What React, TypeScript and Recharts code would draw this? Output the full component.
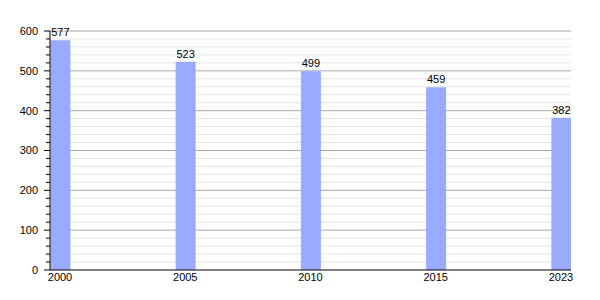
import React from 'react';
import { BarChart, Bar, XAxis, YAxis, CartesianGrid, LabelList } from 'recharts';

const years = ['2000', '2005', '2010', '2015', '2023'];
const population = [577, 523, 499, 459, 382];
const majorTicks = [0, 100, 200, 300, 400, 500, 600];
const minorTicks = [20, 40, 60, 80, 120, 140, 160, 180, 220, 240, 260, 280, 320, 340, 360, 380, 420, 440, 460, 480, 520, 540, 560, 580];
const allTicks = [...majorTicks, ...minorTicks].sort((a, b) => a - b);

const data = years.map((y, i) => ({ idx: i, year: y, value: population[i] }));

const FONT = 'Liberation Sans, Arial, sans-serif';

const YTick = (props: any) => {
  const { x, y, payload } = props;
  const v = payload.value;
  const major = v % 100 === 0;
  return (
    <g>
      <line x1={x - (major ? 6 : 4)} x2={x} y1={y} y2={y} stroke="#000" strokeWidth={1} />
      {major && (
        <text x={x - 12} y={y} dy="0.35em" textAnchor="end" fontSize={11} fontFamily={FONT} fill="#000">
          {v}
        </text>
      )}
    </g>
  );
};

export default function App() {
  return (
    <div style={{ position: 'absolute', left: 0, top: 0, width: 600, height: 300, background: '#fff' }}>
      <BarChart width={600} height={300} data={data} margin={{ top: 31, right: 29, bottom: 10, left: 0 }}>
        <CartesianGrid vertical={false} horizontalValues={minorTicks} stroke="#e2e2e2" strokeWidth={1} />
        <CartesianGrid vertical={false} horizontalValues={majorTicks.filter((t) => t > 0)} stroke="#a8a8a8" strokeWidth={1} />
        <XAxis
          dataKey="idx"
          type="number"
          domain={[-0.08, 4.08]}
          ticks={[0, 1, 2, 3, 4]}
          tickFormatter={(v: number) => years[v]}
          height={20}
          tickLine={false}
          tickSize={0}
          tickMargin={3}
          axisLine={{ stroke: '#000', strokeWidth: 1 }}
          tick={{ fontSize: 11, fontFamily: FONT, fill: '#000' }}
          allowDataOverflow
        />
        <YAxis
          type="number"
          domain={[0, 600]}
          ticks={allTicks}
          interval={0}
          width={50}
          tickLine={false}
          tickSize={0}
          tickMargin={0}
          axisLine={{ stroke: '#000', strokeWidth: 1 }}
          tick={<YTick />}
        />
        <Bar dataKey="value" fill="#99aaff" barSize={20} isAnimationActive={false}>
          <LabelList dataKey="value" position="top" offset={4} fontSize={11} fontFamily={FONT} fill="#000" />
        </Bar>
      </BarChart>
    </div>
  );
}
